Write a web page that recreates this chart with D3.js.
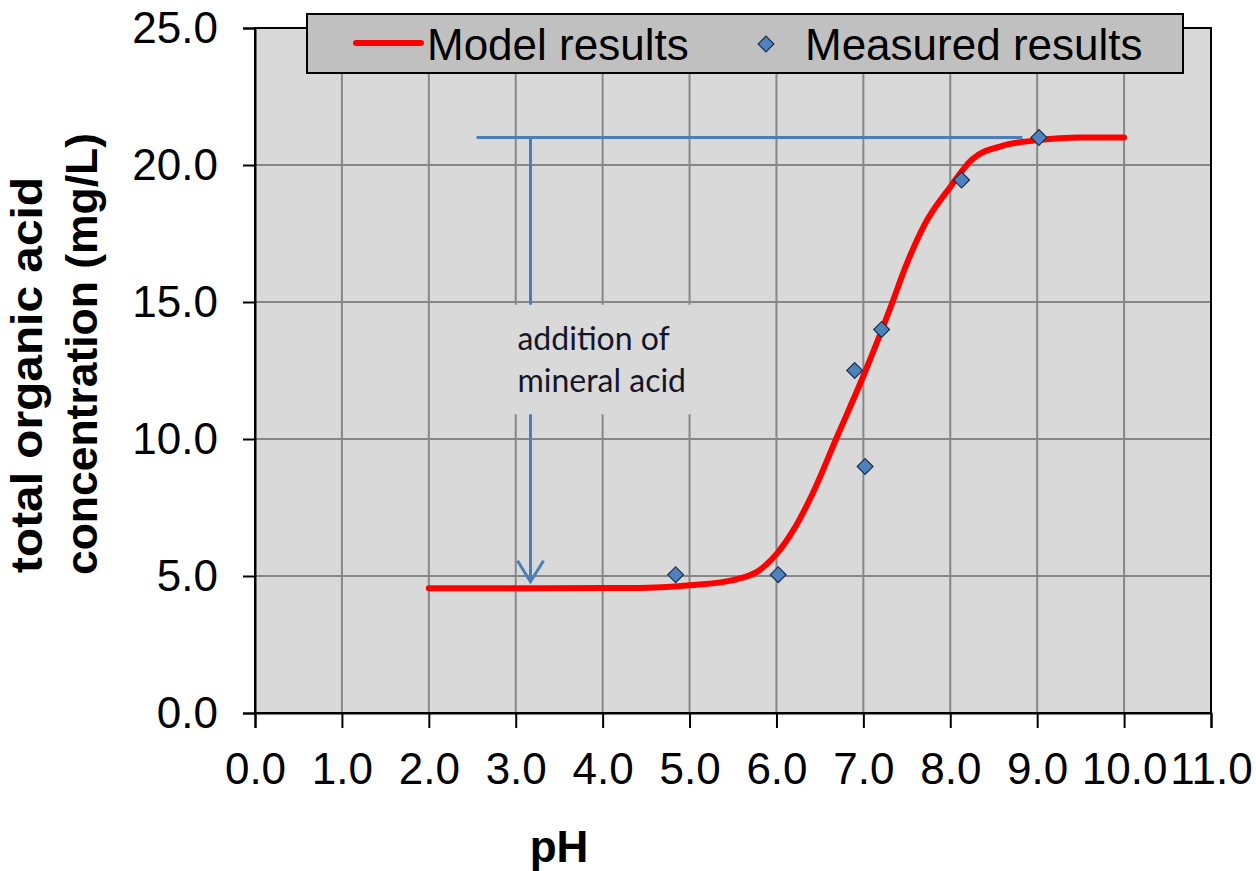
<!DOCTYPE html>
<html>
<head>
<meta charset="utf-8">
<script src="https://cdn.jsdelivr.net/npm/d3@7"></script>
<style>
  html, body { margin: 0; padding: 0; background: #ffffff; }
  svg { display: block; }
  text { font-family: "Liberation Sans", Arial, sans-serif; fill: #000; }
</style>
</head>
<body>
<svg id="chart" width="1256" height="871"></svg>
<script>
// Model curve: total organic acid vs pH
const modelPH   = [2.0, 3.0, 4.0, 4.4, 5.0, 5.5, 5.8, 6.0, 6.2, 6.4, 6.7, 7.0, 7.3, 7.5, 7.7, 8.0, 8.25, 8.6, 9.0, 9.5, 10.0];
const modelConc = [4.55, 4.55, 4.56, 4.56, 4.66, 4.85, 5.2, 5.8, 6.7, 7.9, 10.1, 12.3, 14.7, 16.4, 17.8, 19.2, 20.2, 20.7, 20.9, 21.0, 21.0];

// Measured samples
const measPH   = [4.84, 6.02, 6.90, 7.02, 7.21, 8.13, 9.02];
const measConc = [5.05, 5.05, 12.5, 9.0, 14.0, 19.45, 21.0];

// Axis ticks
const xTicks = [0, 1, 2, 3, 4, 5, 6, 7, 8, 9, 10, 11];
const yTicks = [0, 5, 10, 15, 20, 25];

// Annotation: reference level and the acid-addition arrow
const refLevel   = 21.0;
const refSpanPH  = [2.55, 8.83];
const arrowPH    = 3.17;
const arrowEnd   = 4.79;
const noteBoxPH  = [2.87, 5.1];
const noteBoxC   = [10.9, 14.9];
const noteLines  = ["addition of", "mineral acid"];
const notePH     = 3.02;
const noteConc   = 13.25;

const legendItems = ["Model results", "Measured results"];
const yTitleLines = ["total organic acid", "concentration (mg/L)"];

const svg = d3.select("#chart");
const W = 1256, H = 871;
svg.append("rect").attr("width", W).attr("height", H).attr("fill", "#ffffff");

const x = d3.scaleLinear().domain([0, 11]).range([255, 1211]);
const y = d3.scaleLinear().domain([0, 25]).range([713, 28]);
const fmt = d3.format(".1f");

// plot background
svg.append("rect")
  .attr("x", x(0)).attr("y", y(25))
  .attr("width", x(11) - x(0)).attr("height", y(0) - y(25))
  .attr("fill", "#d9d9d9");

// gridlines
const grid = svg.append("g").attr("stroke", "#878787").attr("stroke-width", 2);
grid.selectAll("line.v").data(xTicks.filter(d => d > 0 && d < 11)).join("line")
  .attr("x1", d => x(d)).attr("x2", d => x(d))
  .attr("y1", y(0)).attr("y2", y(25));
grid.selectAll("line.h").data(yTicks.filter(d => d > 0 && d < 25)).join("line")
  .attr("x1", x(0)).attr("x2", x(11))
  .attr("y1", d => y(d)).attr("y2", d => y(d));

// annotation lines
const blue = "#4a7ebb";
const ann = svg.append("g").attr("stroke", blue).attr("stroke-width", 3).attr("fill", "none");
ann.append("line")
  .attr("x1", x(refSpanPH[0])).attr("x2", x(refSpanPH[1]))
  .attr("y1", y(refLevel)).attr("y2", y(refLevel));
ann.append("line")
  .attr("x1", x(arrowPH)).attr("x2", x(arrowPH))
  .attr("y1", y(refLevel)).attr("y2", y(arrowEnd));
const tipX = x(arrowPH), tipY = y(arrowEnd);
ann.append("path")
  .attr("d", `M${tipX - 13},${tipY - 21}L${tipX},${tipY}L${tipX + 13},${tipY - 21}`)
  .attr("stroke-linejoin", "miter");

// note text box
svg.append("rect")
  .attr("x", x(noteBoxPH[0])).attr("y", y(noteBoxC[1]))
  .attr("width", x(noteBoxPH[1]) - x(noteBoxPH[0]))
  .attr("height", y(noteBoxC[0]) - y(noteBoxC[1]))
  .attr("fill", "#d9d9d9");
svg.append("g").selectAll("text").data(noteLines).join("text")
  .attr("x", x(notePH))
  .attr("y", (d, i) => y(noteConc) + i * 42)
  .style("font-family", "Lato, 'Open Sans', sans-serif")
  .style("font-size", "32px")
  .style("fill", "#15152a")
  .text(d => d);

// model curve
const line = d3.line()
  .x(d => x(d[0])).y(d => y(d[1]))
  .curve(d3.curveMonotoneX);
svg.append("path")
  .datum(modelPH.map((p, i) => [p, modelConc[i]]))
  .attr("d", line)
  .attr("fill", "none")
  .attr("stroke", "#ff0000")
  .attr("stroke-width", 6)
  .attr("stroke-linecap", "round");

// measured diamonds
const diamond = d3.symbol().type(d3.symbolSquare).size(125);
svg.append("g").selectAll("path").data(measPH.map((p, i) => [p, measConc[i]])).join("path")
  .attr("d", diamond)
  .attr("transform", d => `translate(${x(d[0])},${y(d[1])}) rotate(45)`)
  .attr("fill", "#4f81bd")
  .attr("stroke", "#1f2f4a")
  .attr("stroke-width", 1.2);

// frame
svg.append("rect")
  .attr("x", x(0)).attr("y", y(25))
  .attr("width", x(11) - x(0)).attr("height", y(0) - y(25))
  .attr("fill", "none").attr("stroke", "#000").attr("stroke-width", 2);

// axes
const yAxis = d3.axisLeft(y).tickValues(yTicks).tickSize(12).tickPadding(25).tickFormat(fmt);
const gy = svg.append("g").attr("transform", `translate(${x(0)},0)`).call(yAxis);
const xAxis = d3.axisBottom(x).tickValues(xTicks).tickSize(15).tickPadding(25).tickFormat(fmt);
const gx = svg.append("g").attr("transform", `translate(0,${y(0)})`).call(xAxis);
[gx, gy].forEach(g => {
  g.select(".domain").attr("stroke", "#000").attr("stroke-width", 2);
  g.selectAll(".tick line").attr("stroke", "#000").attr("stroke-width", 2);
  g.selectAll(".tick text")
    .style("font-family", "'Liberation Sans', Arial, sans-serif")
    .style("font-size", "44px").attr("fill", "#000");
});

// axis titles
svg.append("text")
  .attr("x", 559).attr("y", 862)
  .attr("text-anchor", "middle")
  .style("font-size", "44px").style("font-weight", "bold")
  .text("pH");
const yTitle = svg.append("g").attr("transform", "translate(0,575) rotate(-90)");
const titleLengths = [396, 442];
yTitle.selectAll("text").data(yTitleLines).join("text")
  .attr("x", (d, i) => i === 0 ? 2 : 0)
  .attr("y", (d, i) => 42 + i * 55)
  .attr("textLength", (d, i) => titleLengths[i])
  .attr("lengthAdjust", "spacingAndGlyphs")
  .style("font-size", "44px").style("font-weight", "bold")
  .text(d => d);

// legend
const lg = svg.append("g");
lg.append("rect")
  .attr("x", 307).attr("y", 14).attr("width", 876).attr("height", 59)
  .attr("fill", "#c0c0c0").attr("stroke", "#000").attr("stroke-width", 2);
lg.append("line")
  .attr("x1", 356).attr("x2", 421).attr("y1", 43).attr("y2", 43)
  .attr("stroke", "#ff0000").attr("stroke-width", 6).attr("stroke-linecap", "round");
lg.append("text").attr("x", 427).attr("y", 60)
  .style("font-size", "44px").text(legendItems[0]);
lg.append("path")
  .attr("d", diamond)
  .attr("transform", "translate(766,44) rotate(45)")
  .attr("fill", "#4f81bd").attr("stroke", "#1f2f4a").attr("stroke-width", 1.2);
lg.append("text").attr("x", 805).attr("y", 60)
  .style("font-size", "44px").text(legendItems[1]);
</script>
</body>
</html>
